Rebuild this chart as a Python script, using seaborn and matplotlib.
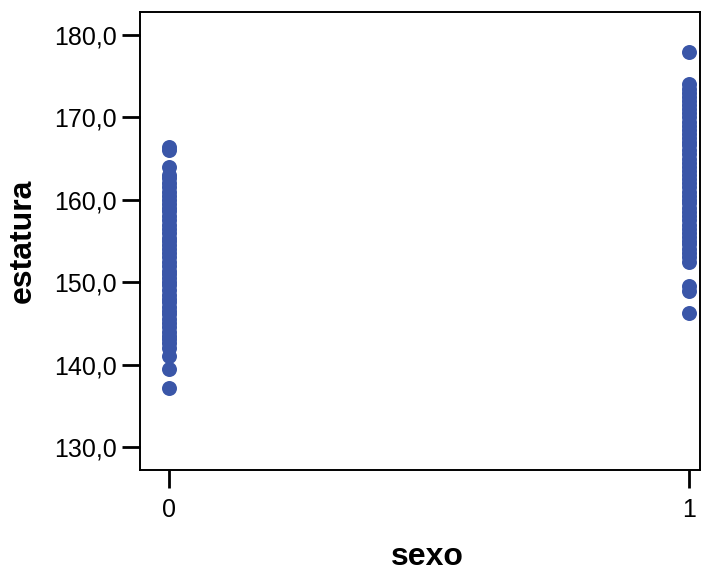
import matplotlib
matplotlib.use("Agg")
import matplotlib.pyplot as plt
import seaborn as sns
import pandas as pd
from matplotlib.ticker import FuncFormatter

# Heights (cm) by sex group
estatura_0 = [137.2, 139.5, 141.0, 142.0, 142.6, 143.1, 143.5, 144.0, 144.6, 145.0,
              145.5, 146.1, 146.5, 147.0, 147.6, 148.0, 148.5, 149.0, 149.6, 150.0,
              150.5, 151.0, 151.4, 152.0, 152.5, 153.0, 153.6, 154.0, 154.5, 155.0,
              155.4, 156.0, 156.5, 157.0, 157.5, 158.0, 158.6, 159.0, 159.5, 160.0,
              160.5, 161.0, 161.5, 162.0, 162.6, 163.0, 164.0, 166.0, 166.4]
estatura_1 = [146.3, 148.9, 149.5, 152.5, 153.0, 153.5, 154.0, 154.6, 155.0, 155.5,
              156.0, 156.5, 157.0, 157.5, 158.0, 158.5, 159.0, 159.6, 160.0, 160.5,
              161.0, 161.5, 162.0, 162.5, 163.0, 163.5, 164.0, 164.5, 165.0, 165.5,
              166.0, 166.6, 167.0, 167.5, 168.0, 168.5, 169.0, 169.5, 170.0, 170.5,
              171.0, 171.5, 172.0, 172.5, 173.0, 173.5, 174.0, 178.0]
sexo_labels = ["0", "1"]
y_ticks = [130, 140, 150, 160, 170, 180]

df = pd.DataFrame({
    "sexo": [sexo_labels[0]] * len(estatura_0) + [sexo_labels[1]] * len(estatura_1),
    "estatura": estatura_0 + estatura_1,
})

sns.set_style("white")
plt.rcParams["font.family"] = ["Liberation Sans", "DejaVu Sans"]

fig = plt.figure(figsize=(7.06, 5.71), dpi=100)
ax = fig.add_axes([0.1983, 0.1769, 0.7932, 0.8021])

sns.stripplot(data=df, x="sexo", y="estatura", order=sexo_labels, jitter=False,
              color="#3A56A8", size=10.8, linewidth=0, ax=ax)

ax.set_xlim(-0.056, 1.021)
ax.set_ylim(127.2, 182.8)
ax.set_yticks(y_ticks)
ax.yaxis.set_major_formatter(FuncFormatter(lambda v, p: f"{v:.1f}".replace(".", ",")))

for s in ax.spines.values():
    s.set_visible(True)
    s.set_color("black")
    s.set_linewidth(1.4)

ax.tick_params(axis="both", which="major", direction="out", length=13, width=2,
               color="black", labelsize=18, labelcolor="black",
               left=True, bottom=True)
ax.tick_params(axis="y", pad=4)
ax.tick_params(axis="x", pad=7)

ax.set_xlabel("sexo", fontsize=23, fontweight="bold", color="black", va="center")
ax.set_ylabel("estatura", fontsize=23, fontweight="bold", color="black", va="center")
ax.xaxis.set_label_coords(0.514, -0.19)
ax.yaxis.set_label_coords(-0.21, 0.5)

fig.savefig("out.png", dpi=100)
